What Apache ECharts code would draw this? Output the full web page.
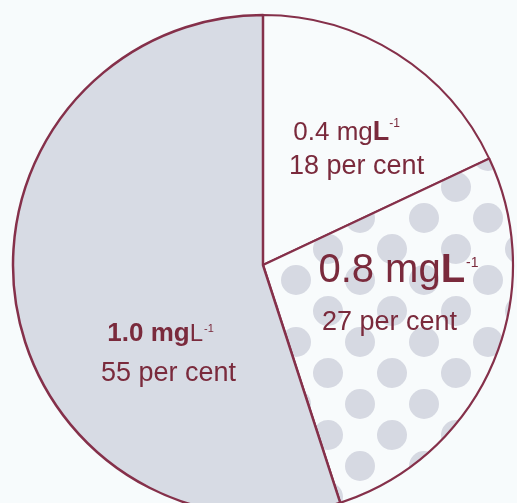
<!DOCTYPE html>
<html><head><meta charset="utf-8">
<script src="https://cdn.jsdelivr.net/npm/echarts@6/dist/echarts.min.js"></script>
<style>html,body{margin:0;padding:0;background:#f7fbfc;} #c{width:517px;height:503px;}</style>
</head><body><div id="c"></div>
<script>
const concentrations = ['0.4', '0.8', '1.0'];
const percents = [18, 27, 55];
const percentLabels = ['18 per cent', '27 per cent', '55 per cent'];
const unitMain = 'mg';
const unitL = 'L';
const unitSup = '-1';

const FONT = 'Liberation Sans, Arial, sans-serif';
const TXT = '#7a2a3c';
const EDGE = '#85304a';

function dotPattern() {
  const c = document.createElement('canvas');
  c.width = 64; c.height = 62;
  const ctx = c.getContext('2d');
  ctx.fillStyle = '#f8fbfc'; ctx.fillRect(0, 0, 64, 62);
  ctx.fillStyle = '#d6d9e2';
  const pts = [[8, 1], [40, 32]];
  for (const [px, py] of pts)
    for (let dx = -64; dx <= 64; dx += 64)
      for (let dy = -62; dy <= 62; dy += 62) {
        ctx.beginPath(); ctx.arc(px + dx, py + dy, 15, 0, Math.PI * 2); ctx.fill();
      }
  return c;
}

function r(o) { return Object.assign({ fontFamily: FONT, color: TXT }, o); }

// spacer widths emulate the left-aligned line starts of the original
const styles = [
  {
    color: '#f8fbfc', bw: 2, offset: [25, -7], sp1: 20, sp2: 0,
    rich: {
      a: r({ fontSize: 26, lineHeight: 34 }),
      b: r({ fontSize: 27, fontWeight: 'bold', lineHeight: 34 }),
      s: r({ fontSize: 12, verticalAlign: 'top', padding: [2, 0, 0, 0] }),
      p: r({ fontSize: 27, lineHeight: 34 }),
      g: r({ fontSize: 10, width: 20 }),
      h: r({ fontSize: 10, width: 0 })
    }
  },
  {
    color: { image: dotPattern(), repeat: 'repeat' }, bw: 2.2, offset: [18, -23], sp1: 0, sp2: 18,
    rich: {
      a: r({ fontSize: 40, lineHeight: 60 }),
      b: r({ fontSize: 40, fontWeight: 'bold', lineHeight: 60 }),
      s: r({ fontSize: 14, verticalAlign: 'top', padding: [15, 0, 0, 1] }),
      p: r({ fontSize: 27, lineHeight: 44 }),
      g: r({ fontSize: 10, width: 0 }),
      h: r({ fontSize: 10, width: 18 })
    }
  },
  {
    color: '#d7dbe4', bw: 2.5, offset: [32, 69], sp1: 16, sp2: 0,
    rich: {
      a: r({ fontSize: 26, fontWeight: 'bold', lineHeight: 40 }),
      b: r({ fontSize: 24, lineHeight: 40 }),
      s: r({ fontSize: 11, verticalAlign: 'top', padding: [9, 0, 0, 1] }),
      p: r({ fontSize: 27, lineHeight: 40 }),
      g: r({ fontSize: 10, width: 16 }),
      h: r({ fontSize: 10, width: 0 })
    }
  }
];

const data = percents.map((v, i) => ({
  value: v,
  name: concentrations[i] + ' ' + unitMain + unitL + unitSup,
  itemStyle: { color: styles[i].color, borderColor: EDGE, borderWidth: styles[i].bw },
  label: {
    show: true,
    position: 'inside',
    offset: styles[i].offset,
    fontFamily: FONT,
    color: TXT,
    formatter: '{a|' + concentrations[i] + ' ' + unitMain + '}{b|' + unitL + '}{s|' + unitSup + '}' +
      (styles[i].sp1 ? '{g| }' : '') + '\n{p|' + percentLabels[i] + '}' + (styles[i].sp2 ? '{h| }' : ''),
    rich: styles[i].rich
  }
}));

const chart = echarts.init(document.getElementById('c'), null, { renderer: 'canvas' });
chart.setOption({
  animation: false,
  backgroundColor: '#f7fbfc',
  series: [{
    type: 'pie',
    center: [263, 265],
    radius: 250,
    startAngle: 90,
    clockwise: true,
    silent: true,
    avoidLabelOverlap: false,
    labelLine: { show: false },
    emphasis: { disabled: true },
    data: data
  }]
});
</script>
</body></html>
